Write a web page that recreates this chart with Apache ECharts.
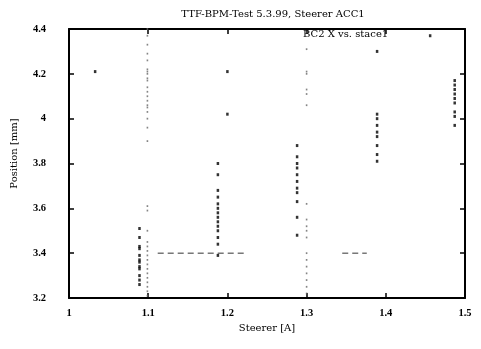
<!DOCTYPE html>
<html>
<head>
<meta charset="utf-8">
<script src="https://cdn.jsdelivr.net/npm/echarts@6/dist/echarts.min.js"></script>
<style>
  html, body { margin: 0; padding: 0; background: #fff; }
  #chart { width: 481px; height: 349px; }
</style>
</head>
<body>
<div id="chart"></div>
<script>
// Beam position readings at each steerer current setting
const titleText = 'TTF-BPM-Test 5.3.99, Steerer ACC1';
const seriesName = 'BC2 X vs. stace1';
const xTicks = [1, 1.1, 1.2, 1.3, 1.4, 1.5];
const yTicks = [3.2, 3.4, 3.6, 3.8, 4, 4.2, 4.4];

// Solid readings, grouped by current step [A]
const stepA = [1.089, [3.51, 3.47, 3.43, 3.42, 3.39, 3.37, 3.36, 3.34, 3.33, 3.30, 3.28, 3.26]];
const stepC = [1.188, [3.80, 3.75, 3.68, 3.65, 3.62, 3.60, 3.58, 3.56, 3.54, 3.52, 3.50, 3.47, 3.44, 3.39]];
const stepD = [1.288, [3.88, 3.83, 3.80, 3.78, 3.75, 3.72, 3.69, 3.67, 3.63, 3.56, 3.48]];
const stepE = [1.389, [4.30, 4.02, 4.00, 3.97, 3.94, 3.92, 3.88, 3.84, 3.81]];
const stepF = [1.487, [4.17, 4.15, 4.13, 4.11, 4.09, 4.07, 4.03, 4.01, 3.97]];
const strayPoints = [[1.033, 4.21], [1.2, 4.21], [1.2, 4.02], [1.456, 4.37]];

// Faint readings along the 1.1 A and 1.3 A settings
const faintB = [1.099, [4.40, 4.37, 4.33, 4.29, 4.26, 4.22, 4.21, 4.20, 4.18, 4.17, 4.14, 4.12,
  4.10, 4.08, 4.06, 4.05, 4.03, 4.00, 3.96, 3.90, 3.61, 3.59, 3.50, 3.45, 3.43, 3.41, 3.39,
  3.37, 3.35, 3.33, 3.31, 3.29, 3.27, 3.25, 3.23, 3.21]];
const faintD = [1.300, [4.31, 4.21, 4.20, 4.13, 4.11, 4.06, 3.62, 3.55, 3.52, 3.50, 3.47,
  3.40, 3.37, 3.34, 3.31, 3.28, 3.25, 3.22]];

// Dashed reference pieces near 3.4 mm
const refLine = [[1.112, 3.40], [1.225, 3.40], null, [1.345, 3.40], [1.376, 3.40]];

function expand(group) {
  return group[1].map(v => [group[0], v]);
}
const solidData = [stepA, stepC, stepD, stepE, stepF].flatMap(expand).concat(strayPoints);
const faintData = [faintB, faintD].flatMap(expand);

const font = '"Liberation Serif", "DejaVu Serif", serif';
const wideFont = '"DejaVu Serif", serif';
const axisLine = { show: true, lineStyle: { color: '#000', width: 2 } };
const fmt = v => String(parseFloat(v.toFixed(1)));

const chart = echarts.init(document.getElementById('chart'));
chart.setOption({
  animation: false,
  backgroundColor: '#fff',
  title: {
    text: titleText,
    left: 268, top: 4, textAlign: 'center',
    textStyle: { fontFamily: wideFont, fontSize: 10, fontWeight: 'normal', color: '#000' }
  },
  legend: {
    data: [{ name: seriesName, icon: 'none' }],
    left: 293, top: 24,
    itemWidth: 0, itemHeight: 0,
    textStyle: { fontFamily: wideFont, fontSize: 10, color: '#000' }
  },
  grid: { left: 69, right: 16, top: 29, bottom: 51, outerBoundsMode: 'none' },
  xAxis: [{
    type: 'value', min: 1, max: 1.5, interval: 0.1,
    name: 'Steerer [A]', nameLocation: 'middle', nameGap: 23,
    nameTextStyle: { fontFamily: wideFont, fontSize: 10, color: '#000' },
    axisLine, splitLine: { show: false },
    axisTick: { inside: true, length: 5, lineStyle: { color: '#000', width: 1.5 } },
    axisLabel: {
      fontFamily: font, fontSize: 10.5, fontWeight: 'bold', color: '#000', margin: 10,
      formatter: fmt
    }
  }, {
    type: 'value', min: 1, max: 1.5, interval: 0.1, position: 'top',
    axisLine, splitLine: { show: false }, axisLabel: { show: false },
    axisTick: { inside: true, length: 5, lineStyle: { color: '#000', width: 1.5 } }
  }],
  yAxis: [{
    type: 'value', min: 3.2, max: 4.4, interval: 0.2,
    name: 'Position [mm]', nameLocation: 'middle', nameGap: 50,
    nameTextStyle: { fontFamily: wideFont, fontSize: 10, color: '#000', padding: [0, 0, 0, 20] },
    axisLine, splitLine: { show: false },
    axisTick: { inside: true, length: 5, lineStyle: { color: '#000', width: 1.5 } },
    axisLabel: {
      fontFamily: font, fontSize: 10.5, fontWeight: 'bold', color: '#000', margin: 23,
      formatter: fmt
    }
  }, {
    type: 'value', min: 3.2, max: 4.4, interval: 0.2, position: 'right',
    axisLine, splitLine: { show: false }, axisLabel: { show: false },
    axisTick: { inside: true, length: 5, lineStyle: { color: '#000', width: 1.5 } }
  }],
  series: [{
    name: seriesName, type: 'scatter', data: solidData,
    symbol: 'rect', symbolSize: [2.5, 3], itemStyle: { color: '#000' }, z: 3
  }, {
    name: 'faint', type: 'scatter', data: faintData,
    symbol: 'rect', symbolSize: [1.6, 1.8], itemStyle: { color: '#666' }, z: 2
  }, {
    name: 'ref', type: 'line', data: refLine, connectNulls: false,
    showSymbol: false, symbol: 'none',
    lineStyle: { color: '#333', width: 1, type: [6, 4] }, z: 1
  }]
});
</script>
</body>
</html>
